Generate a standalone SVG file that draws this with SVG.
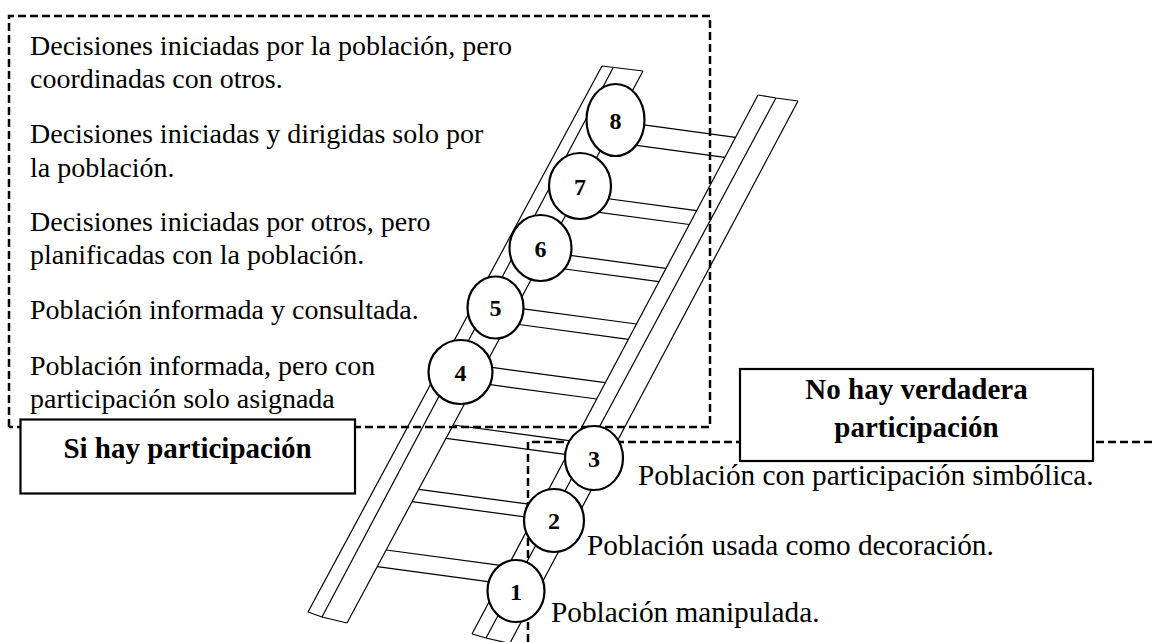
<svg xmlns="http://www.w3.org/2000/svg" width="1155" height="642" viewBox="0 0 1155 642">
<style>
.t{font-family:"Liberation Serif","Times New Roman",serif;font-size:28px;fill:#000}
.r{font-family:"Liberation Serif","Times New Roman",serif;font-size:29.3px;fill:#000}
.b{font-family:"Liberation Serif","Times New Roman",serif;font-size:29px;font-weight:bold;fill:#000;text-anchor:middle}
.n{font-family:"Liberation Serif","Times New Roman",serif;font-size:24px;font-weight:bold;fill:#000;text-anchor:middle}
.ln{stroke:#000;stroke-width:1.2;fill:none}
.dash{stroke:#000;stroke-width:2.5;fill:none;stroke-dasharray:8,4}
.box{fill:#fff;stroke:#000;stroke-width:2.2}
.c{fill:#fff;stroke:#000;stroke-width:2.2}
</style>
<rect width="1155" height="642" fill="#fff"/>
<g id="regions">
<path class="dash" d="M9,427 V16 H710 V427 H9"/>
<path class="dash" d="M528,642 V442 H1155"/>
</g>
<g id="ladder">
<line class="ln" x1="602" y1="66" x2="308" y2="612"/>
<line class="ln" x1="613" y1="68" x2="322" y2="617"/>
<line class="ln" x1="643" y1="71" x2="347" y2="623"/>
<line class="ln" x1="602" y1="66" x2="643" y2="71"/>
<polyline class="ln" points="308,612 322,617 347,623"/>
<line class="ln" x1="758" y1="95" x2="472" y2="634"/>
<line class="ln" x1="776" y1="98" x2="486" y2="638"/>
<line class="ln" x1="798" y1="101" x2="510" y2="643"/>
<polyline class="ln" points="758,95 776,98 798,101"/>
<polyline class="ln" points="472,634 486,638 512,644"/>
</g>
<g id="connectors">
<line class="ln" x1="616.1" y1="121.2" x2="735.6" y2="137.3"/>
<line class="ln" x1="605.4" y1="141.2" x2="724.9" y2="157.3"/>
<line class="ln" x1="576.8" y1="194.5" x2="696.6" y2="210.7"/>
<line class="ln" x1="569.4" y1="208.3" x2="689.3" y2="224.5"/>
<line class="ln" x1="545.9" y1="252.1" x2="666.0" y2="268.3"/>
<line class="ln" x1="538.8" y1="265.5" x2="658.9" y2="281.7"/>
<line class="ln" x1="516.1" y1="307.8" x2="636.5" y2="324"/>
<line class="ln" x1="507.9" y1="323.0" x2="628.4" y2="339.3"/>
<line class="ln" x1="484.7" y1="366.4" x2="605.3" y2="382.7"/>
<line class="ln" x1="475.9" y1="382.7" x2="596.7" y2="399"/>
<line class="ln" x1="453.3" y1="425" x2="574.3" y2="441.3"/>
<line class="ln" x1="446.1" y1="438.3" x2="567.2" y2="454.6"/>
<line class="ln" x1="418.8" y1="489.3" x2="540.1" y2="505.7"/>
<line class="ln" x1="412.1" y1="501.7" x2="533.5" y2="518.1"/>
<line class="ln" x1="386.3" y1="550" x2="507.9" y2="566.4"/>
<line class="ln" x1="377.3" y1="566.7" x2="499.0" y2="583.1"/>
</g>
<g id="n8"><ellipse class="c" cx="615.5" cy="120" rx="29" ry="36"/><text class="n" x="615.5" y="128.5">8</text></g>
<g id="n7"><ellipse class="c" cx="580" cy="186" rx="31" ry="33"/><text class="n" x="580" y="194.5">7</text></g>
<g id="n6"><ellipse class="c" cx="540.5" cy="248" rx="31" ry="33"/><text class="n" x="540.5" y="256.5">6</text></g>
<g id="n5"><ellipse class="c" cx="495.5" cy="307.5" rx="28" ry="31"/><text class="n" x="495.5" y="316">5</text></g>
<g id="n4"><ellipse class="c" cx="460.5" cy="372" rx="32" ry="32"/><text class="n" x="460.5" y="380.5">4</text></g>
<g id="n3"><ellipse class="c" cx="594" cy="458" rx="29" ry="32"/><text class="n" x="594" y="466.5">3</text></g>
<g id="n2"><ellipse class="c" cx="554" cy="520.5" rx="30" ry="31.5"/><text class="n" x="554" y="529">2</text></g>
<g id="n1"><ellipse class="c" cx="516" cy="591" rx="28.5" ry="31"/><text class="n" x="516" y="599.5">1</text></g>
<g id="si-hay">
<rect class="box" x="20.5" y="419.5" width="334.5" height="74"/>
<text class="b" x="187.5" y="458">Si hay participación</text>
</g>
<g id="no-hay">
<rect class="box" x="740" y="369" width="353" height="92"/>
<text class="b" x="916.5" y="399">No hay verdadera</text>
<text class="b" x="916.5" y="437">participación</text>
</g>
<g id="texts-left">
<text class="t" x="30" y="55">Decisiones iniciadas por la población, pero</text>
<text class="t" x="30" y="88">coordinadas con otros.</text>
<text class="t" x="30" y="143">Decisiones iniciadas y dirigidas solo por</text>
<text class="t" x="30" y="177">la población.</text>
<text class="t" x="30" y="231">Decisiones iniciadas por otros, pero</text>
<text class="t" x="30" y="264">planificadas con la población.</text>
<text class="t" x="30" y="319">Población informada y consultada.</text>
<text class="t" x="30" y="375">Población informada, pero con</text>
<text class="t" x="30" y="408">participación solo asignada</text>
</g>
<g id="texts-right">
<text class="r" x="638" y="485">Población con participación simbólica.</text>
<text class="r" x="587" y="555">Población usada como decoración.</text>
<text class="r" x="551" y="622">Población manipulada.</text>
</g>
</svg>
